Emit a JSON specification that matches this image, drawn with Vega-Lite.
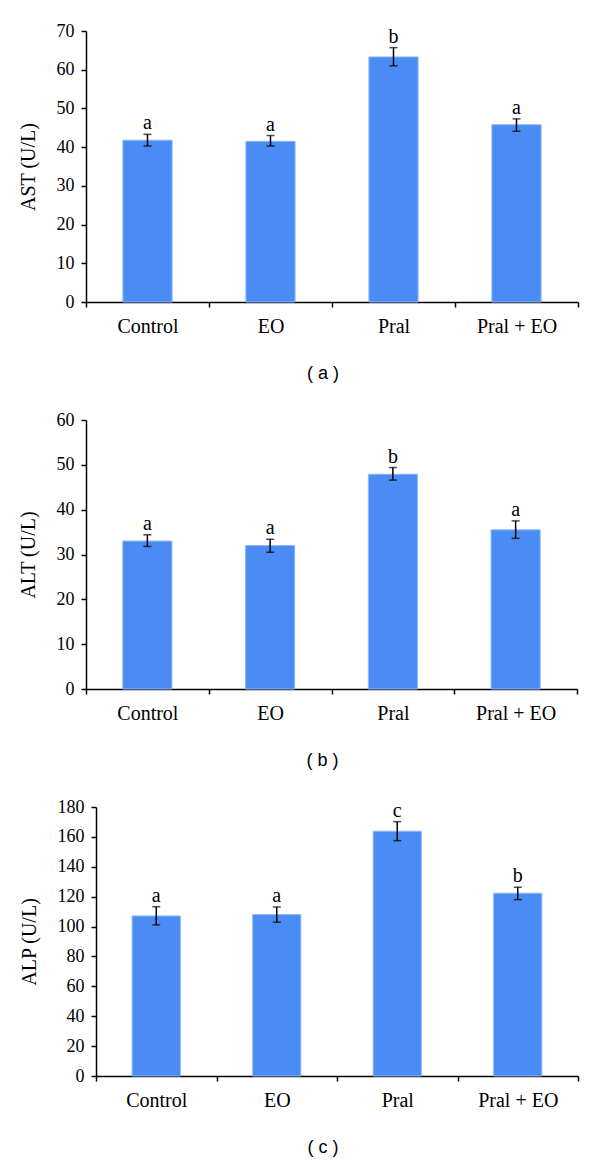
{
  "$schema": "https://vega.github.io/schema/vega-lite/v6.json",
  "padding": {"left": 18, "top": 22, "right": 10, "bottom": 5},
  "background": "white",
  "spacing": 28,
  "datasets": {
    "ast": [
      {"group": "Control", "value": 41.8, "lo": 40.3, "hi": 43.3, "letter": "a"},
      {"group": "EO", "value": 41.5, "lo": 40.3, "hi": 43.0, "letter": "a"},
      {"group": "Pral", "value": 63.3, "lo": 61.0, "hi": 65.7, "letter": "b"},
      {"group": "Pral + EO", "value": 45.8, "lo": 44.1, "hi": 47.3, "letter": "a"}
    ],
    "alt": [
      {"group": "Control", "value": 33.0, "lo": 31.8, "hi": 34.4, "letter": "a"},
      {"group": "EO", "value": 32.0, "lo": 30.5, "hi": 33.4, "letter": "a"},
      {"group": "Pral", "value": 47.9, "lo": 46.6, "hi": 49.4, "letter": "b"},
      {"group": "Pral + EO", "value": 35.5, "lo": 33.6, "hi": 37.5, "letter": "a"}
    ],
    "alp": [
      {"group": "Control", "value": 107.1, "lo": 101.1, "hi": 113.3, "letter": "a"},
      {"group": "EO", "value": 108.0, "lo": 102.9, "hi": 113.1, "letter": "a"},
      {"group": "Pral", "value": 163.8, "lo": 157.5, "hi": 170.2, "letter": "c"},
      {"group": "Pral + EO", "value": 122.3, "lo": 118.0, "hi": 126.3, "letter": "b"}
    ]
  },
  "config": {
    "view": {"stroke": null},
    "axis": {
      "grid": false,
      "domainColor": "black",
      "domainWidth": 1.5,
      "tickColor": "black",
      "tickWidth": 1.5,
      "tickSize": 5,
      "labelColor": "black",
      "labelFont": "Liberation Serif",
      "titleFont": "Liberation Serif",
      "titleColor": "black",
      "titleFontWeight": "normal"
    },
    "axisY": {"labelFontSize": 18, "labelPadding": 7, "titleFontSize": 20, "titlePadding": 18, "labelOverlap": false},
    "axisX": {"labelFontSize": 20, "labelPadding": 9, "labelAngle": 0, "tickBand": "extent", "title": null},
    "title": {"font": "Liberation Sans", "fontSize": 18, "fontWeight": "normal", "color": "black"}
  },
  "vconcat": [
    {
      "width": 492, "height": 271,
      "data": {"name": "ast"},
      "title": {"text": "( a )", "orient": "bottom", "offset": 29, "frame": "group", "anchor": "middle", "dx": -9},
      "encoding": {
        "x": {"field": "group", "type": "nominal", "sort": ["Control", "EO", "Pral", "Pral + EO"],
              "scale": {"paddingInner": 0, "paddingOuter": 0}, "axis": {"title": null}}
      },
      "layer": [
        {"mark": {"type": "bar", "color": "#4a8cf4", "stroke": "#8cb8f7", "strokeWidth": 1, "width": {"band": 0.4}},
         "encoding": {"y": {"field": "value", "type": "quantitative", "title": "AST (U/L)",
           "scale": {"domain": [0, 70], "nice": false},
           "axis": {"values": [0, 10, 20, 30, 40, 50, 60, 70]}}}},
        {"mark": {"type": "rule", "color": "black", "strokeWidth": 1.5},
         "encoding": {"y": {"field": "lo", "type": "quantitative", "title": "AST (U/L)", "axis": {"values": [0, 10, 20, 30, 40, 50, 60, 70]}}, "y2": {"field": "hi"}}},
        {"mark": {"type": "tick", "color": "black", "size": 8, "thickness": 1.5, "orient": "horizontal"},
         "encoding": {"y": {"field": "lo", "type": "quantitative", "title": "AST (U/L)", "axis": {"values": [0, 10, 20, 30, 40, 50, 60, 70]}}}},
        {"mark": {"type": "tick", "color": "black", "size": 8, "thickness": 1.5, "orient": "horizontal"},
         "encoding": {"y": {"field": "hi", "type": "quantitative", "title": "AST (U/L)", "axis": {"values": [0, 10, 20, 30, 40, 50, 60, 70]}}}},
        {"mark": {"type": "text", "font": "Liberation Serif", "fontSize": 20, "baseline": "alphabetic", "dy": -5, "color": "black"},
         "encoding": {"y": {"field": "hi", "type": "quantitative", "title": "AST (U/L)", "axis": {"values": [0, 10, 20, 30, 40, 50, 60, 70]}}, "text": {"field": "letter"}}}
      ]
    },
    {
      "width": 491, "height": 269,
      "data": {"name": "alt"},
      "title": {"text": "( b )", "orient": "bottom", "offset": 29, "frame": "group", "anchor": "middle", "dx": -9},
      "encoding": {
        "x": {"field": "group", "type": "nominal", "sort": ["Control", "EO", "Pral", "Pral + EO"],
              "scale": {"paddingInner": 0, "paddingOuter": 0}, "axis": {"title": null}}
      },
      "layer": [
        {"mark": {"type": "bar", "color": "#4a8cf4", "stroke": "#8cb8f7", "strokeWidth": 1, "width": {"band": 0.4}},
         "encoding": {"y": {"field": "value", "type": "quantitative", "title": "ALT (U/L)",
           "scale": {"domain": [0, 60], "nice": false},
           "axis": {"values": [0, 10, 20, 30, 40, 50, 60]}}}},
        {"mark": {"type": "rule", "color": "black", "strokeWidth": 1.5},
         "encoding": {"y": {"field": "lo", "type": "quantitative", "title": "ALT (U/L)", "axis": {"values": [0, 10, 20, 30, 40, 50, 60]}}, "y2": {"field": "hi"}}},
        {"mark": {"type": "tick", "color": "black", "size": 8, "thickness": 1.5, "orient": "horizontal"},
         "encoding": {"y": {"field": "lo", "type": "quantitative", "title": "ALT (U/L)", "axis": {"values": [0, 10, 20, 30, 40, 50, 60]}}}},
        {"mark": {"type": "tick", "color": "black", "size": 8, "thickness": 1.5, "orient": "horizontal"},
         "encoding": {"y": {"field": "hi", "type": "quantitative", "title": "ALT (U/L)", "axis": {"values": [0, 10, 20, 30, 40, 50, 60]}}}},
        {"mark": {"type": "text", "font": "Liberation Serif", "fontSize": 20, "baseline": "alphabetic", "dy": -5, "color": "black"},
         "encoding": {"y": {"field": "hi", "type": "quantitative", "title": "ALT (U/L)", "axis": {"values": [0, 10, 20, 30, 40, 50, 60]}}, "text": {"field": "letter"}}}
      ]
    },
    {
      "width": 492, "height": 269,
      "data": {"name": "alp"},
      "title": {"text": "( c )", "orient": "bottom", "offset": 29, "frame": "group", "anchor": "middle", "dx": -9},
      "encoding": {
        "x": {"field": "group", "type": "nominal", "sort": ["Control", "EO", "Pral", "Pral + EO"],
              "scale": {"paddingInner": 0, "paddingOuter": 0, "range": [10, 492]}, "axis": {"title": null}}
      },
      "layer": [
        {"mark": {"type": "bar", "color": "#4a8cf4", "stroke": "#8cb8f7", "strokeWidth": 1, "width": {"band": 0.4}},
         "encoding": {"y": {"field": "value", "type": "quantitative", "title": "ALP (U/L)",
           "scale": {"domain": [0, 180], "nice": false},
           "axis": {"values": [0, 20, 40, 60, 80, 100, 120, 140, 160, 180], "offset": -10}}}},
        {"mark": {"type": "rule", "color": "black", "strokeWidth": 1.5},
         "encoding": {"y": {"field": "lo", "type": "quantitative", "title": "ALP (U/L)", "axis": {"values": [0, 20, 40, 60, 80, 100, 120, 140, 160, 180], "offset": -10}}, "y2": {"field": "hi"}}},
        {"mark": {"type": "tick", "color": "black", "size": 8, "thickness": 1.5, "orient": "horizontal"},
         "encoding": {"y": {"field": "lo", "type": "quantitative", "title": "ALP (U/L)", "axis": {"values": [0, 20, 40, 60, 80, 100, 120, 140, 160, 180], "offset": -10}}}},
        {"mark": {"type": "tick", "color": "black", "size": 8, "thickness": 1.5, "orient": "horizontal"},
         "encoding": {"y": {"field": "hi", "type": "quantitative", "title": "ALP (U/L)", "axis": {"values": [0, 20, 40, 60, 80, 100, 120, 140, 160, 180], "offset": -10}}}},
        {"mark": {"type": "text", "font": "Liberation Serif", "fontSize": 20, "baseline": "alphabetic", "dy": -5, "color": "black"},
         "encoding": {"y": {"field": "hi", "type": "quantitative", "title": "ALP (U/L)", "axis": {"values": [0, 20, 40, 60, 80, 100, 120, 140, 160, 180], "offset": -10}}, "text": {"field": "letter"}}}
      ]
    }
  ]
}
